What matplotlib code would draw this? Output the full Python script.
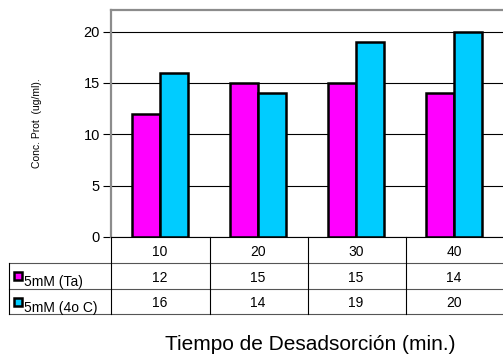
import matplotlib.pyplot as plt
import numpy as np
from matplotlib.transforms import blended_transform_factory
from matplotlib.patches import Rectangle

plt.rcParams["font.family"] = ["Liberation Sans", "DejaVu Sans"]

# Data
tiempos = ["10", "20", "30", "40"]
series_names = ["5mM (Ta)", "5mM (4o C)"]
ta_values = [12, 15, 15, 14]
frio_values = [16, 14, 19, 20]
colors = ["#ff00ff", "#00ccff"]

W, H = 503, 355
fig = plt.figure(figsize=(W / 100, H / 100), dpi=100)
ax = fig.add_axes([111 / W, 1 - 237 / H, 392 / W, 227 / H])

x = np.arange(len(tiempos))
w = 0.29
ax.bar(x - w / 2, ta_values, w, color=colors[0], edgecolor="black", linewidth=1.8, zorder=3)
ax.bar(x + w / 2, frio_values, w, color=colors[1], edgecolor="black", linewidth=1.8, zorder=3)

ax.set_xlim(-0.5, 3.5)
ax.set_ylim(0, 22.1)
ax.set_yticks([0, 5, 10, 15, 20])
ax.yaxis.grid(True, color="black", linewidth=0.8)
ax.set_axisbelow(True)
ax.set_xticks([])
ax.tick_params(axis="y", labelsize=10.5, length=6, width=0.8, pad=2)
for s in ["left", "top"]:
    ax.spines[s].set_color("#8c8c8c")
    ax.spines[s].set_linewidth(1.6)
ax.spines["right"].set_visible(False)
ax.spines["bottom"].set_visible(False)

ax.set_ylabel("Conc. Prot  (ug/ml).", fontsize=7.5, labelpad=30)

# Data table under the axes
trans = blended_transform_factory(ax.transData, fig.transFigure)
fx = lambda px: px / W
fy = lambda py: 1 - py / H
rows_y = [237, 263, 289, 314]

fig.add_artist(plt.Line2D([fx(111), 1], [fy(237), fy(237)], color="black", lw=0.8))
for yy in rows_y[1:]:
    fig.add_artist(plt.Line2D([fx(9), 1], [fy(yy), fy(yy)], color="#555555", lw=0.8))
for xx in [111, 210, 308, 406]:
    fig.add_artist(plt.Line2D([fx(xx), fx(xx)], [fy(237), fy(314)], color="black", lw=0.8))
fig.add_artist(plt.Line2D([fx(9), fx(9)], [fy(263), fy(314)], color="black", lw=0.8))

cell_y = [252, 277.5, 303]
for i, t in enumerate(tiempos):
    ax.text(i, fy(cell_y[0]), t, transform=trans, ha="center", va="center", fontsize=10)
    ax.text(i, fy(cell_y[1]), str(ta_values[i]), transform=trans, ha="center", va="center", fontsize=10)
    ax.text(i, fy(cell_y[2]), str(frio_values[i]), transform=trans, ha="center", va="center", fontsize=10)

for j, (name, c) in enumerate(zip(series_names, colors)):
    top = rows_y[j + 1]
    fig.add_artist(Rectangle((fx(14), fy(top + 17)), 8 / W, 8 / H, facecolor=c,
                             edgecolor="black", lw=1.8, transform=fig.transFigure))
    fig.text(fx(24), fy(top + 19), name, fontsize=10, va="center", ha="left")

fig.text(fx(310), fy(344), "Tiempo de Desadsorción (min.)", fontsize=15, ha="center", va="center")

plt.savefig("out.png", dpi=100)
